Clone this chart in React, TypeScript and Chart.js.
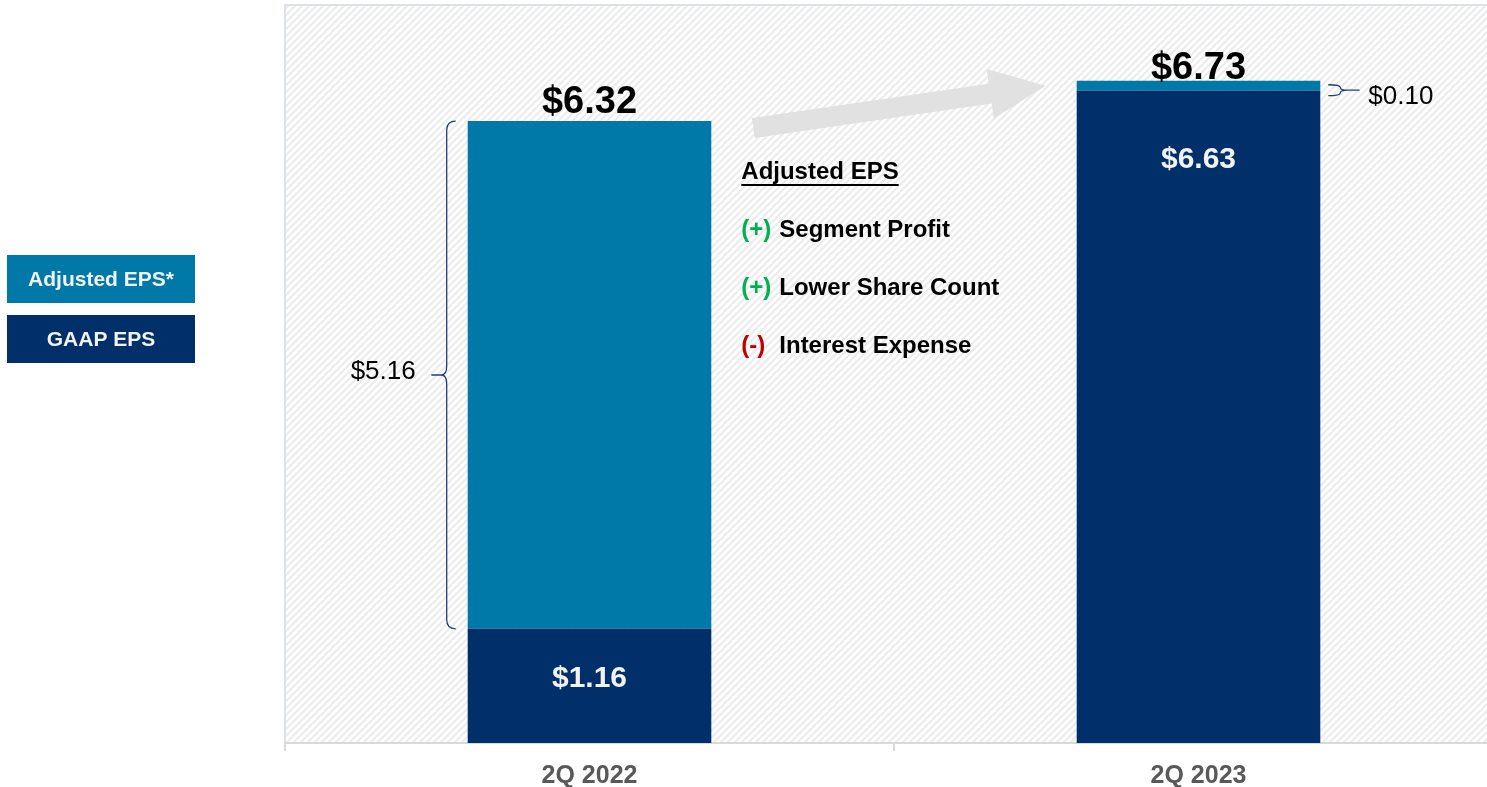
import React, { useEffect, useRef } from "react";
import { Chart, registerables } from "chart.js";

Chart.register(...registerables);

const categories = ["2Q 2022", "2Q 2023"];
const gaapEPS = [1.16, 6.63];
const adjustedAdd = [5.16, 0.1];
const seriesLabels = ["GAAP EPS", "Adjusted EPS*"];
const seriesColors = ["#002F6A", "#0079A8"];
const driversTitle = "Adjusted EPS";
const driverSigns = ["(+)", "(+)", "(-)"];
const driverTexts = ["Segment Profit", "Lower Share Count", "Interest Expense"];
const driverColors = ["#00B050", "#00B050", "#C00000"];

const FONT = "'Liberation Sans', Arial, sans-serif";
const fmt = (v: number) => "$" + v.toFixed(2);

function makeHatch(ctx: CanvasRenderingContext2D) {
  const c = document.createElement("canvas");
  const s = 7;
  c.width = s;
  c.height = s;
  const g = c.getContext("2d")!;
  g.fillStyle = "#ffffff";
  g.fillRect(0, 0, s, s);
  g.strokeStyle = "#ececec";
  g.lineWidth = 2.2;
  g.beginPath();
  g.moveTo(-1, s + 1);
  g.lineTo(s + 1, -1);
  g.moveTo(-1, 1);
  g.lineTo(1, -1);
  g.moveTo(s - 1, s + 1);
  g.lineTo(s + 1, s - 1);
  g.stroke();
  return ctx.createPattern(c, "repeat")!;
}

function brace(
  ctx: CanvasRenderingContext2D,
  xv: number,
  top: number,
  bot: number,
  dir: number,
  r: number,
  tail: number
) {
  const mid = (top + bot) / 2;
  const xo = xv - dir * r;
  const rr = Math.min(r, (bot - top) / 4);
  ctx.beginPath();
  ctx.moveTo(xo, top);
  ctx.quadraticCurveTo(xv, top, xv, top + rr);
  ctx.lineTo(xv, mid - rr);
  ctx.quadraticCurveTo(xv, mid, xv + dir * r * 0.6, mid);
  ctx.quadraticCurveTo(xv, mid, xv, mid + rr);
  ctx.lineTo(xv, bot - rr);
  ctx.quadraticCurveTo(xv, bot, xo, bot);
  ctx.moveTo(xv + dir * r * 0.6, mid);
  ctx.lineTo(xv + dir * (r * 0.6 + tail), mid);
  ctx.stroke();
}

const decorPlugin = {
  id: "decor",
  beforeDraw(chart: any) {
    const { ctx, chartArea: a } = chart;
    ctx.save();
    ctx.fillStyle = makeHatch(ctx);
    ctx.fillRect(a.left, a.top, a.right - a.left, a.bottom - a.top);
    ctx.strokeStyle = "#dde2e8";
    ctx.lineWidth = 2;
    ctx.beginPath();
    ctx.moveTo(a.left, a.bottom);
    ctx.lineTo(a.left, a.top);
    ctx.lineTo(a.right, a.top);
    ctx.stroke();
    ctx.restore();
  },
  beforeDatasetsDraw(chart: any) {
    const { ctx } = chart;
    const y = chart.scales.y;
    const b0 = chart.getDatasetMeta(0).data[0];
    const b1 = chart.getDatasetMeta(0).data[1];
    // growth arrow
    const sx = b0.x + b0.width / 2 + 42;
    const sy = y.getPixelForValue(6.25);
    const tx = b1.x - b1.width / 2 - 31;
    const ty = y.getPixelForValue(6.68);
    const dx = tx - sx, dy = ty - sy;
    const len = Math.hypot(dx, dy);
    const ux = dx / len, uy = dy / len;
    const nx = -uy, ny = ux;
    const hw = 10, headW = 25, headL = 56;
    const bx = tx - ux * headL, by = ty - uy * headL;
    ctx.save();
    ctx.fillStyle = "#e1e1e1";
    ctx.beginPath();
    ctx.moveTo(sx + nx * hw, sy + ny * hw);
    ctx.lineTo(bx + nx * hw, by + ny * hw);
    ctx.lineTo(bx + nx * headW, by + ny * headW);
    ctx.lineTo(tx, ty);
    ctx.lineTo(bx - nx * headW, by - ny * headW);
    ctx.lineTo(bx - nx * hw, by - ny * hw);
    ctx.lineTo(sx - nx * hw, sy - ny * hw);
    ctx.closePath();
    ctx.fill();

    // drivers text block
    const lx = b0.x + b0.width / 2 + 30;
    const top = chart.chartArea.top;
    ctx.textBaseline = "middle";
    ctx.textAlign = "left";
    ctx.font = `bold 24px ${FONT}`;
    ctx.fillStyle = "#000000";
    const ty0 = top + 167;
    ctx.fillText(driversTitle, lx, ty0);
    const tw = ctx.measureText(driversTitle).width;
    ctx.fillRect(lx, ty0 + 12, tw, 2);
    driverSigns.forEach((s, i) => {
      const yy = ty0 + 58 * (i + 1);
      ctx.fillStyle = driverColors[i];
      ctx.fillText(s, lx, yy);
      ctx.fillStyle = "#000000";
      ctx.fillText(driverTexts[i], lx + 38, yy);
    });
    ctx.restore();
  },
  afterDatasetsDraw(chart: any) {
    const { ctx } = chart;
    const y = chart.scales.y;
    const m0 = chart.getDatasetMeta(0).data;
    ctx.save();
    ctx.textAlign = "center";
    ctx.textBaseline = "middle";
    const totalOffsets = [19, 12];
    categories.forEach((_, i) => {
      const total = gaapEPS[i] + adjustedAdd[i];
      const bar = m0[i];
      ctx.fillStyle = "#000000";
      ctx.font = `bold 38px ${FONT}`;
      ctx.fillText(fmt(total), bar.x, y.getPixelForValue(total) - totalOffsets[i]);
      ctx.fillStyle = "#F2F2F2";
      ctx.font = `bold 30px ${FONT}`;
      const gy = i === 0 ? (bar.y + bar.base) / 2 - 7 : bar.y + 69;
      ctx.fillText(fmt(gaapEPS[i]), bar.x, gy);
    });
    // braces
    ctx.strokeStyle = "#1F3F7F";
    ctx.lineWidth = 1.3;
    ctx.font = `26px ${FONT}`;
    ctx.fillStyle = "#000000";
    const b0 = m0[0];
    const t0 = y.getPixelForValue(gaapEPS[0] + adjustedAdd[0]);
    const bt0 = y.getPixelForValue(gaapEPS[0]);
    const xv0 = b0.x - b0.width / 2 - 21;
    brace(ctx, xv0, t0, bt0, -1, 9, 10);
    ctx.textAlign = "right";
    ctx.fillText(fmt(adjustedAdd[0]), xv0 - 31, (t0 + bt0) / 2 - 3);
    const b1 = m0[1];
    const t1 = y.getPixelForValue(gaapEPS[1] + adjustedAdd[1]) + 4;
    const bt1 = y.getPixelForValue(gaapEPS[1]) + 5;
    const xv1 = b1.x + b1.width / 2 + 20;
    brace(ctx, xv1, t1, bt1, 1, 12, 12);
    ctx.textAlign = "left";
    ctx.fillText(fmt(adjustedAdd[1]), xv1 + 28, (t1 + bt1) / 2 + 7);
    ctx.restore();
  },
  afterDraw(chart: any) {
    const { ctx } = chart;
    ctx.save();
    const boxes = [
      { label: seriesLabels[1], color: seriesColors[1], y: 255 },
      { label: seriesLabels[0], color: seriesColors[0], y: 315 },
    ];
    ctx.textAlign = "center";
    ctx.textBaseline = "middle";
    ctx.font = `bold 21px ${FONT}`;
    boxes.forEach((b) => {
      ctx.fillStyle = b.color;
      ctx.fillRect(7, b.y, 188, 48);
      ctx.fillStyle = "#F2F2F2";
      ctx.fillText(b.label, 7 + 94, b.y + 25);
    });
    ctx.restore();
  },
};

export default function App() {
  const ref = useRef<HTMLCanvasElement>(null);
  useEffect(() => {
    const chart = new Chart(ref.current!, {
      type: "bar",
      data: {
        labels: categories,
        datasets: [
          {
            label: seriesLabels[0],
            data: gaapEPS,
            backgroundColor: seriesColors[0],
            barPercentage: 0.4,
            categoryPercentage: 1,
          },
          {
            label: seriesLabels[1],
            data: adjustedAdd,
            backgroundColor: seriesColors[1],
            barPercentage: 0.4,
            categoryPercentage: 1,
          },
        ],
      },
      options: {
        responsive: false,
        animation: false,
        layout: { padding: { left: 285, top: 5, right: 0, bottom: 0 } },
        plugins: { legend: { display: false }, tooltip: { enabled: false } },
        scales: {
          x: {
            stacked: true,
            afterFit: (s: any) => {
              s.height = 44;
            },
            grid: {
              display: true,
              drawOnChartArea: false,
              drawTicks: true,
              tickLength: 8,
              color: "#d9d9d9",
              lineWidth: 2,
            },
            border: { display: true, color: "#d9d9d9", width: 2 },
            ticks: {
              color: "#595959",
              padding: 10,
              font: { family: FONT, size: 25, weight: "bold" },
            },
          },
          y: {
            stacked: true,
            display: false,
            min: 0,
            max: 7.5,
          },
        },
      },
      plugins: [decorPlugin],
    });
    return () => chart.destroy();
  }, []);
  return (
    <div
      style={{
        position: "fixed",
        left: 0,
        top: 0,
        width: 1487,
        height: 787,
        overflow: "hidden",
        background: "#ffffff",
      }}
    >
      <canvas ref={ref} width={1503} height={787} style={{ display: "block" }} />
    </div>
  );
}
